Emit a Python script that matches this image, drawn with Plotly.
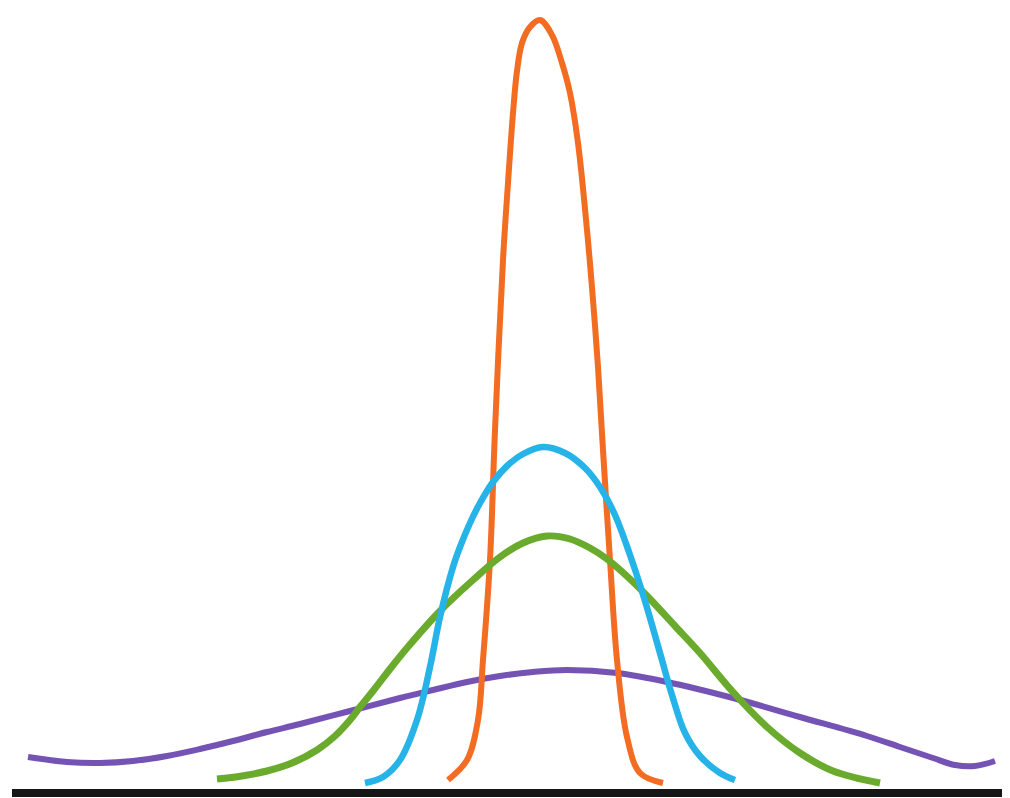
import plotly.graph_objects as go

# curves: x position and height above the baseline
purple_x = [28, 67, 100, 133, 167, 200, 233, 267, 300, 350, 400, 433, 467, 500,
            533, 567, 617, 667, 733, 800, 867, 900, 933, 955, 975, 995]
purple_y = [36, 31, 30, 32, 37, 44, 52, 61, 69, 82, 95, 103, 111, 117,
            121, 123, 120, 111, 95, 76, 57, 46, 35, 28, 27, 32]

green_x = [217, 242, 267, 292, 317, 335, 350, 360, 373, 390, 407, 440, 473, 500,
           523, 547, 570, 590, 607, 630, 650, 675, 700, 733, 767, 800, 833, 880]
green_y = [14, 17, 22, 30, 43, 57, 73, 86, 102, 124, 145, 182, 213, 236,
           250, 257, 254, 245, 234, 214, 194, 167, 140, 101, 66, 40, 22, 10]

blue_x = [365, 383, 400, 417, 430, 440, 453, 460, 470, 480, 493, 507, 523, 543,
          565, 585, 600, 615, 630, 645, 660, 672, 685, 700, 720, 735]
blue_y = [10, 16, 33, 73, 126, 176, 226, 246, 270, 290, 311, 327, 339, 346,
          340, 325, 306, 278, 238, 192, 140, 98, 60, 37, 20, 13]

orange_x = [448, 467, 478, 483, 490, 495, 503, 508, 513, 517, 522, 530, 540, 552,
            562, 570, 578, 587, 593, 598, 603, 610, 617, 627, 640, 663]
orange_y = [13, 33, 73, 133, 233, 363, 533, 610, 680, 722, 750, 766, 773, 758,
            730, 700, 650, 563, 493, 426, 343, 233, 133, 56, 20, 10]

series = [
    ("purple", purple_x, purple_y, "#7453B5", 6),
    ("orange", orange_x, orange_y, "#F26C22", 6),
    ("green", green_x, green_y, "#6AAB2D", 7),
    ("blue", blue_x, blue_y, "#25B3E8", 6.5),
]

fig = go.Figure()
for name, xs, ys, color, lw in series:
    fig.add_trace(go.Scatter(
        x=xs, y=ys, name=name, mode="lines",
        line=dict(color=color, width=lw, shape="spline", smoothing=1.0),
        hoverinfo="skip",
    ))

# the page body has an 8px margin, so the figure is a bit smaller
# and the axis ranges are set so one x unit = one screen pixel
fig.update_layout(
    width=1002,
    height=790,
    margin=dict(l=0, r=0, t=0, b=0),
    paper_bgcolor="white",
    plot_bgcolor="white",
    showlegend=False,
    xaxis=dict(range=[12, 1010], domain=[4 / 1002, 1], visible=False),
    yaxis=dict(range=[-5, 785], showgrid=False, showticklabels=False,
               zeroline=True, zerolinecolor="#161616", zerolinewidth=8),
)

fig.write_html("out.html")
